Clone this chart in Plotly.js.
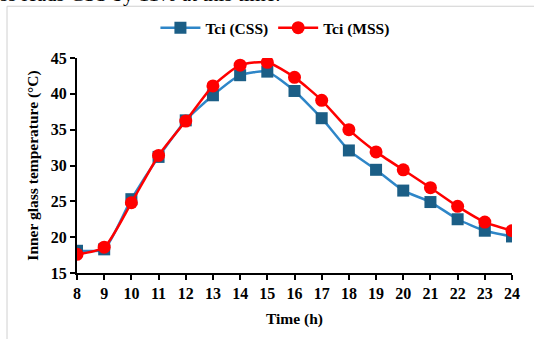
<!DOCTYPE html>
<html><head><meta charset="utf-8">
<script src="https://cdn.plot.ly/plotly-3.0.1.min.js"></script>
<style>html,body{margin:0;padding:0;background:#fff;}#chart{width:534px;height:339px;}</style>
</head><body><div id="chart"></div>
<script>
const hours = [8,9,10,11,12,13,14,15,16,17,18,19,20,21,22,23,24];
const tciCSS = [18.1,18.3,25.3,31.2,36.3,39.8,42.6,43.1,40.4,36.6,32.1,29.4,26.5,24.9,22.5,20.9,20.1];
const tciMSS = [17.6,18.6,24.8,31.4,36.2,41.1,44.0,44.4,42.3,39.1,35.0,31.9,29.4,26.9,24.3,22.1,20.9];
const seriesNames = ['Tci (CSS)','Tci (MSS)'];
const xTitle = 'Time (h)';
const yTitle = 'Inner glass temperature (°C)';
const topText = 'ss leads CSS by 11% at this time.';

const font = 'Liberation Serif, Times New Roman, serif';
const traces = [
  {x: hours, y: tciCSS, name: seriesNames[0], mode: 'lines+markers',
   line: {color: '#2E86C8', width: 2.5, shape: 'spline', smoothing: 0.5},
   marker: {symbol: 'square', size: 12, color: '#1B5E86'}},
  {x: hours, y: tciMSS, name: seriesNames[1], mode: 'lines+markers',
   line: {color: '#FF0000', width: 2.5, shape: 'spline', smoothing: 0.6},
   marker: {symbol: 'circle', size: 13, color: '#FF0000'}}
];
const layout = {
  width: 534, height: 339,
  margin: {l: 77, r: 22, t: 57, b: 66},
  paper_bgcolor: '#fff', plot_bgcolor: '#fff',
  font: {family: font, color: '#000'},
  showlegend: true,
  legend: {orientation: 'h', x: 0.455, xanchor: 'center', y: 1.134, yanchor: 'middle',
           font: {family: font, size: 15.5, weight: 'bold', color: '#000'}, itemwidth: 40},
  xaxis: {range: [8, 24], tickvals: hours, ticktext: hours.map(String),
          showgrid: false, zeroline: false, showline: true, linecolor: '#000', linewidth: 2,
          ticks: 'outside', ticklen: 5, tickwidth: 2, tickcolor: '#000',
          tickfont: {family: font, size: 16, weight: 'bold', color: '#000'},
          title: {text: xTitle, font: {family: font, size: 15.5, weight: 'bold', color: '#000'}, standoff: 12}},
  yaxis: {range: [15, 45], dtick: 5, showgrid: false, zeroline: false, showline: true,
          linecolor: '#000', linewidth: 2, ticks: 'outside', ticklen: 5, tickwidth: 2, tickcolor: '#000',
          tickfont: {family: font, size: 16, weight: 'bold', color: '#000'},
          title: {text: yTitle, font: {family: font, size: 15.5, weight: 'bold', color: '#000'}, standoff: 8}},
  shapes: [{type: 'rect', xref: 'paper', yref: 'paper',
            x0: -70/435, x1: 470/435, y0: -80/216, y1: 268/216,
            line: {color: '#d0d0d0', width: 1}, fillcolor: 'rgba(0,0,0,0)', layer: 'below'}],
  annotations: [{text: topText, xref: 'paper', yref: 'paper', x: -79/435, xanchor: 'left',
                 y: 266/216, yanchor: 'bottom', showarrow: false,
                 font: {family: font, size: 21, color: '#000'}}]
};
Plotly.newPlot('chart', traces, layout, {displayModeBar: false, staticPlot: true});
</script></body></html>
